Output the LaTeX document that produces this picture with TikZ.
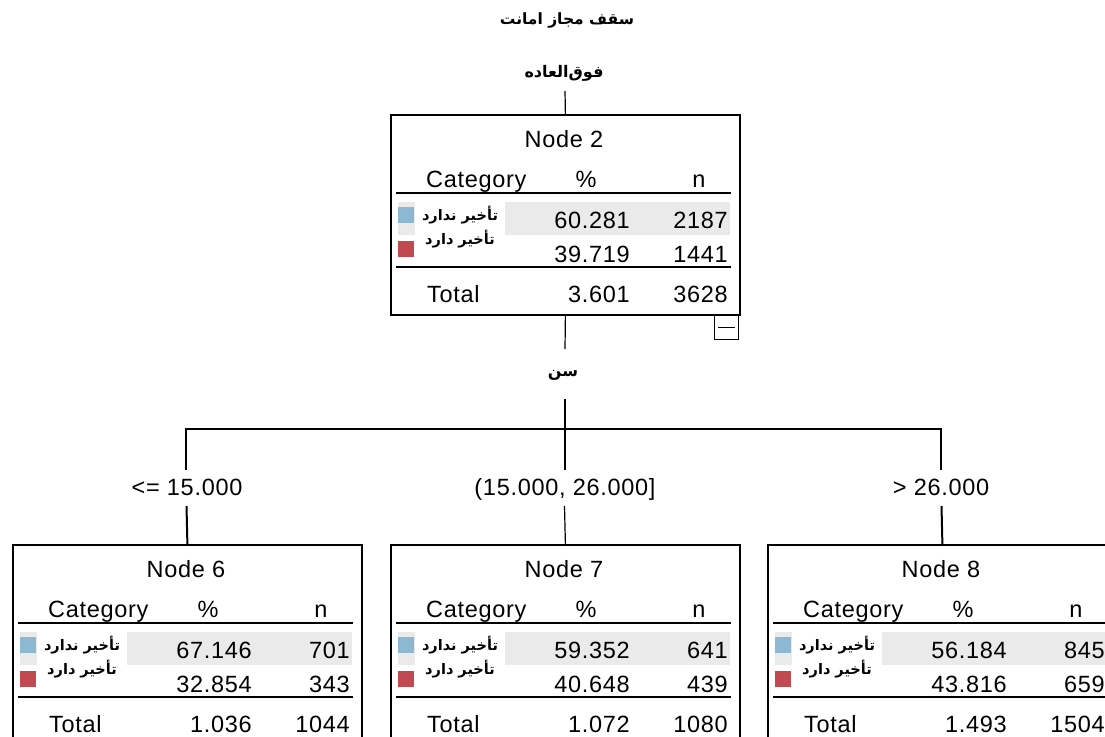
\documentclass[tikz,border=0pt]{standalone}
\usepackage{fontspec}
\setmainfont{Liberation Sans}[LetterSpace=3]
\newfontfamily\arabicfont[Script=Arabic]{DejaVu Sans}
\TeXXeTstate=1
\definecolor{rowgray}{RGB}{234,234,234}
\definecolor{catblue}{RGB}{141,184,210}
\definecolor{catred}{RGB}{192,74,80}
\tikzset{
  box/.style={draw=black,line width=1.8pt,fill=white,minimum width=349pt,minimum height=200pt,anchor=north west,inner sep=0pt},
  txt/.style={inner sep=0pt,font=\fontsize{23.5}{27}\selectfont},
  arab/.style={inner sep=0pt,font=\arabicfont\bfseries\fontsize{14.5}{17}\selectfont},
  arabtop/.style={inner sep=0pt,font=\arabicfont\bfseries\fontsize{16}{19}\selectfont},
  rulel/.style={line width=2pt},
  thinline/.style={line width=1.2pt},
  thickline/.style={line width=2pt},
}
\newcommand\spssnode[9]{%
  \node[box] (#1) at #2 {};
  \begin{scope}[shift={#2}]
    \fill[rowgray] (8,88) rectangle (340,121);
    \fill[white] (25,88) rectangle (115,121);
    \fill[catblue] (8,93) rectangle (24,109);
    \fill[catred] (8,127) rectangle (24,143);
    \draw[rulel] (6,79) -- (341,79);
    \draw[rulel] (6,153) -- (341,153);
    \node[txt,anchor=base] (#1-title) at (174,33) {Node #3};
    \node[txt,anchor=base west] (#1-cat) at (36,73) {Category};
    \node[txt,anchor=base] (#1-pc) at (196,73) {\%};
    \node[txt,anchor=base] (#1-n) at (309,73) {n};
    \node[arab] (#1-l1) at (70,101) {\beginR تأخیر ندارد\endR};
    \node[arab] (#1-l2) at (70,125) {\beginR تأخیر دارد\endR};
    \node[txt,anchor=base east] (#1-p1) at (240,114) {#4};
    \node[txt,anchor=base east] (#1-n1) at (338,114) {#5};
    \node[txt,anchor=base east] (#1-p2) at (240,148) {#6};
    \node[txt,anchor=base east] (#1-n2) at (338,148) {#7};
    \node[txt,anchor=base west] (#1-tt) at (37,188) {Total};
    \node[txt,anchor=base east] (#1-pt) at (240,188) {#8};
    \node[txt,anchor=base east] (#1-nt) at (338,188) {#9};
  \end{scope}
}
\begin{document}
\begin{tikzpicture}[x=1pt,y=-1pt]
\useasboundingbox (0,0) rectangle (1105,736);
\clip (0,0) rectangle (1105,736);
\fill[white] (0,0) rectangle (1105,736);

% top labels
\node[inner sep=0pt,font=\arabicfont\bfseries\fontsize{15.5}{18}\selectfont] (vtitle) at (567,21) {\beginR سقف مجاز امانت\endR};
\node[arabtop] (sv) at (564,73) {\beginR فوق‌العاده\endR};

\spssnode{n2}{(390,114)}{2}{60.281}{2187}{39.719}{1441}{3.601}{3628}

% collapse box
\node[draw=black,line width=1.2pt,fill=white,minimum width=24pt,minimum height=24pt,inner sep=0pt,anchor=north west] (n2-minus) at (714,315) {};
\draw[line width=1.6pt] ([xshift=4pt]n2-minus.west) -- ([xshift=-4pt]n2-minus.east);

\coordinate (c0) at (565,91);
\draw[thinline] (c0) -- (n2.north);

\coordinate (c1) at (565,349);
\draw[thinline] (n2.south) -- (c1);
\node[arabtop] (var) at (563,375) {\beginR سن\endR};
\coordinate (c2) at (565,399);
\coordinate (bm) at (565,429);
\draw[thinline] (c2) -- (bm);

\coordinate (bl) at (186,429);
\coordinate (br) at (941,429);
\coordinate (cL) at (186,470);
\coordinate (cM) at (565,470);
\coordinate (cR) at (941,470);
\draw[thickline] (cL) -- (bl) -- (br) -- (cR);
\draw[thinline] (bm) -- (cM);

\node[txt,anchor=base] (lab6) at (187,495) {<= 15.000};
\node[txt,anchor=base] (lab7) at (565,495) {(15.000, 26.000]};
\node[txt,anchor=base] (lab8) at (941,495) {> 26.000};

\spssnode{n6}{(12,544)}{6}{67.146}{701}{32.854}{343}{1.036}{1044}
\spssnode{n7}{(390,544)}{7}{59.352}{641}{40.648}{439}{1.072}{1080}
\spssnode{n8}{(767,544)}{8}{56.184}{845}{43.816}{659}{1.493}{1504}

\coordinate (d6) at (186.5,506);
\coordinate (d7) at (564.5,506);
\coordinate (d8) at (941.5,506);
\draw[thickline] (d6) -- (n6.north);
\draw[thinline] (d7) -- (n7.north);
\draw[thickline] (d8) -- (n8.north);
\end{tikzpicture}
\end{document}
